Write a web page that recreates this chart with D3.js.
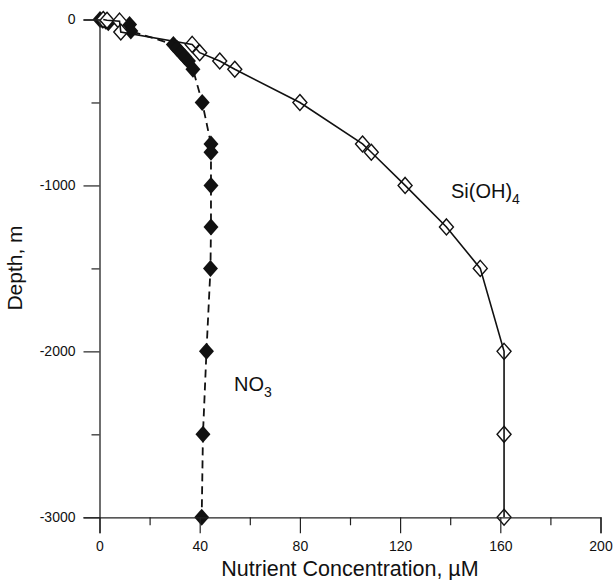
<!DOCTYPE html>
<html>
<head>
<meta charset="utf-8">
<script src="https://cdn.jsdelivr.net/npm/d3@7"></script>
<style>
  html, body { margin: 0; padding: 0; background: #fff; }
  svg text { font-family: "Liberation Sans", Arial, sans-serif; fill: #111; }
</style>
</head>
<body>
<svg id="chart" width="613" height="580"></svg>
<script>
// values (depth in m, concentration in uM)
const no3Depth = [0, -5, -10, -20, -30, -70, -150, -175, -200, -225, -250, -300, -500, -750, -800, -1000, -1250, -1500, -2000, -2500, -3000];
const no3Conc  = [0.2, 1.2, 2.5, 3.5, 12, 12.5, 29.5, 31, 32.5, 34, 35.5, 37.3, 41, 44.5, 44.5, 44.5, 44.5, 44.3, 42.7, 41.3, 40.8];

const siDepth = [0, -5, -10, -75, -150, -200, -250, -300, -500, -750, -800, -1000, -1250, -1500, -2000, -2500, -3000];
const siConc  = [1.5, 3, 8, 8.5, 37, 40, 48, 54, 80, 105, 108.5, 122, 138.5, 152, 161.5, 161.5, 161.5];

const xMajor = [0, 40, 80, 120, 160, 200];
const xMinor = [20, 60, 100, 140, 180];
const yMajor = [0, -1000, -2000, -3000];
const yMinor = [-500, -1500, -2500];

const svg = d3.select('#chart');

const x = d3.scaleLinear().domain([0, 200]).range([99.5, 600.5]);
const y = d3.scaleLinear().domain([0, -3000]).range([19.5, 517.3]);

const no3 = no3Depth.map((d, i) => ({ d: d, c: no3Conc[i] }));
const si = siDepth.map((d, i) => ({ d: d, c: siConc[i] }));

const line = d3.line().x(p => x(p.c)).y(p => y(p.d));
const diamond = (w, h) => `M0,${-h}L${w},0L0,${h}L${-w},0Z`;

// NO3: dashed line, filled diamonds
svg.append('path')
  .datum(no3)
  .attr('d', line)
  .attr('fill', 'none')
  .attr('stroke', '#111')
  .attr('stroke-width', 1.8)
  .attr('stroke-dasharray', '8,5');

svg.selectAll('.no3').data(no3).enter().append('path')
  .attr('class', 'no3')
  .attr('transform', p => `translate(${x(p.c)},${y(p.d)})`)
  .attr('d', diamond(7.5, 8.5))
  .attr('fill', '#111');

// Si(OH)4: open diamonds, solid line
svg.selectAll('.si').data(si).enter().append('path')
  .attr('class', 'si')
  .attr('transform', p => `translate(${x(p.c)},${y(p.d)})`)
  .attr('d', diamond(7, 8))
  .attr('fill', '#fff')
  .attr('stroke', '#111')
  .attr('stroke-width', 1.4);

svg.append('path')
  .datum(si)
  .attr('d', line)
  .attr('fill', 'none')
  .attr('stroke', '#111')
  .attr('stroke-width', 1.6);

// axes (plain hyphen for negatives, like the original)
const fmt = d => String(d);

const xAxis = svg.append('g')
  .attr('transform', `translate(0,${y(-3000)})`)
  .call(d3.axisBottom(x).tickValues(xMajor).tickSize(16).tickPadding(8).tickFormat(fmt));
xAxis.append('g')
  .call(d3.axisBottom(x).tickValues(xMinor).tickSize(8).tickFormat(''));

const yAxis = svg.append('g')
  .attr('transform', `translate(${x(0)},0)`)
  .call(d3.axisLeft(y).tickValues(yMajor).tickSize(16).tickPadding(8).tickFormat(fmt));
yAxis.append('g')
  .call(d3.axisLeft(y).tickValues(yMinor).tickSize(8).tickFormat(''));

svg.selectAll('.domain').attr('stroke', '#222').attr('stroke-width', 1.3);
svg.selectAll('.tick line').attr('stroke', '#222').attr('stroke-width', 1.2);
svg.selectAll('.tick text').style('font-size', '14px').style('font-family', '"Liberation Sans", Arial, sans-serif').attr('fill', '#111');
svg.selectAll('g > g > .domain').remove();

// axis titles
svg.append('text')
  .attr('x', 350).attr('y', 576)
  .attr('text-anchor', 'middle')
  .style('font-size', '21.5px')
  .text('Nutrient Concentration, \u00b5M');

svg.append('text')
  .attr('transform', 'translate(22,268) rotate(-90)')
  .attr('text-anchor', 'middle')
  .style('font-size', '21px')
  .text('Depth, m');

// series labels
const no3Label = svg.append('text')
  .attr('x', 234).attr('y', 391)
  .style('font-size', '20px');
no3Label.append('tspan').text('NO');
no3Label.append('tspan').attr('dy', 6).style('font-size', '14px').text('3');

const siLabel = svg.append('text')
  .attr('x', 451).attr('y', 198)
  .style('font-size', '20px');
siLabel.append('tspan').text('Si(OH)');
siLabel.append('tspan').attr('dy', 6).style('font-size', '14px').text('4');
</script>
</body>
</html>
